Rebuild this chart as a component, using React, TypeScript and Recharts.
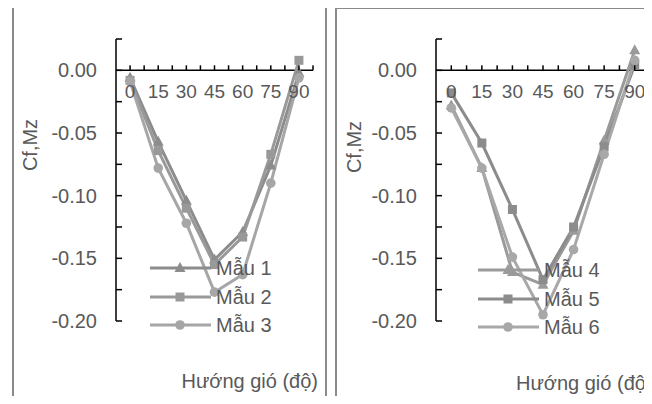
import { LineChart, Line, XAxis, YAxis, ReferenceLine, Legend } from 'recharts'

const FONT = '"Liberation Sans", Arial, sans-serif'
const TEXT = '#595959'

const ANGLES = [0, 15, 30, 45, 60, 75, 90]
const MAU_1 = [-0.006, -0.057, -0.104, -0.151, -0.129, -0.076, -0.002]
const MAU_2 = [-0.008, -0.064, -0.11, -0.155, -0.133, -0.067, 0.008]
const MAU_3 = [-0.009, -0.078, -0.122, -0.177, -0.163, -0.09, -0.006]
const MAU_4 = [-0.028, -0.078, -0.161, -0.171, -0.128, -0.056, 0.016]
const MAU_5 = [-0.018, -0.058, -0.111, -0.167, -0.125, -0.061, 0.004]
const MAU_6 = [-0.03, -0.078, -0.149, -0.195, -0.143, -0.067, 0.008]

const X_TICKS = [0, 7.5, 15, 22.5, 30, 37.5, 45, 52.5, 60, 67.5, 75, 82.5, 90, 97.5]
const X_LABELS = [0, 15, 30, 45, 60, 75, 90]
const Y_TICKS = [-0.2, -0.175, -0.15, -0.125, -0.1, -0.075, -0.05, -0.025, 0, 0.025]
const Y_LABELS = [-0.2, -0.15, -0.1, -0.05, 0]
const Y_MIN = -0.2
const Y_MAX = 0.025

type Shape = 'triangle' | 'square' | 'circle'
type Series = { name: string; values: number[]; color: string; shape: Shape }

const LEFT_SERIES: Series[] = [
  { name: 'Mẫu 1', values: MAU_1, color: '#8c8c8c', shape: 'triangle' },
  { name: 'Mẫu 2', values: MAU_2, color: '#999999', shape: 'square' },
  { name: 'Mẫu 3', values: MAU_3, color: '#a6a6a6', shape: 'circle' },
]
const RIGHT_SERIES: Series[] = [
  { name: 'Mẫu 4', values: MAU_4, color: '#9a9a9a', shape: 'triangle' },
  { name: 'Mẫu 5', values: MAU_5, color: '#8c8c8c', shape: 'square' },
  { name: 'Mẫu 6', values: MAU_6, color: '#a8a8a8', shape: 'circle' },
]

function Marker({ cx, cy, shape, color }: { cx: number; cy: number; shape: Shape; color: string }) {
  if (shape === 'triangle') {
    return <path d={`M${cx},${cy - 6} L${cx + 5.5},${cy + 4} L${cx - 5.5},${cy + 4} Z`} fill={color} />
  }
  if (shape === 'square') {
    return <rect x={cx - 4.5} y={cy - 4.5} width={9} height={9} fill={color} />
  }
  return <circle cx={cx} cy={cy} r={4.8} fill={color} />
}

type PanelProps = {
  series: Series[]
  left: number
  top: number
  width: number
  height: number
  yAxisWidth: number
  marginTop: number
  yTitleX: number
  xTitle: { x: number; anchor: 'start' | 'end' }
  legendLeft: number
}

function Panel({ series, left, top, width, height, yAxisWidth, marginTop, yTitleX, xTitle, legendLeft }: PanelProps) {
  const margin = { top: marginTop, right: 14, bottom: 80, left: 0 }
  const plotH = height - margin.top - margin.bottom - 1
  // x axis crosses at 0, so its ticks and labels sit at that height
  const zeroY = margin.top + (plotH * Y_MAX) / (Y_MAX - Y_MIN)

  const data = ANGLES.map((a, i) => {
    const row: Record<string, number> = { angle: a }
    series.forEach((s) => { row[s.name] = s.values[i] })
    return row
  })

  const XTick = (props: any) => {
    const { x, payload } = props
    const v = payload.value as number
    return (
      <g>
        <rect x={x - 0.75} y={zeroY - 5} width={1.5} height={5} fill="#000" />
        {X_LABELS.includes(v) && (
          <text x={x} y={zeroY + 21} textAnchor="middle" dominantBaseline="central" fill={TEXT} fontSize={19} fontFamily={FONT}>
            {v}
          </text>
        )}
      </g>
    )
  }

  const YTick = (props: any) => {
    const { x, y, payload } = props
    const v = payload.value as number
    const show = Y_LABELS.some((l) => Math.abs(l - v) < 1e-9)
    return (
      <g>
        <rect x={x} y={y - 0.75} width={6} height={1.5} fill="#000" />
        {show && (
          <text x={x - 19} y={y} textAnchor="end" dominantBaseline="central" fill={TEXT} fontSize={20} fontFamily={FONT}>
            {v.toFixed(2)}
          </text>
        )}
      </g>
    )
  }

  return (
    <div style={{ position: 'absolute', left, top, width, height }}>
      <LineChart width={width} height={height} data={data} margin={margin}>
        <rect x={1} y={1} width={width - 2} height={height - 2} fill="none" stroke="#8a8a8a" strokeWidth={2} />
        <XAxis
          dataKey="angle"
          type="number"
          domain={[-7.5, 97.5]}
          ticks={X_TICKS}
          interval={0}
          height={1}
          axisLine={false}
          tickLine={false}
          tickSize={0}
          tickMargin={0}
          tick={XTick}
        />
        <YAxis
          type="number"
          domain={[Y_MIN, Y_MAX]}
          ticks={Y_TICKS}
          interval={0}
          width={yAxisWidth}
          axisLine={{ stroke: '#000', strokeWidth: 1.5 }}
          tickLine={false}
          tickSize={0}
          tickMargin={0}
          tick={YTick}
        />
        <ReferenceLine y={0} stroke="#000" strokeWidth={1.5} />
        {series.map((s) => (
          <Line
            key={s.name}
            dataKey={s.name}
            stroke={s.color}
            strokeWidth={3}
            isAnimationActive={false}
            dot={(p: any) => <Marker key={`${s.name}-${p.index}`} cx={p.cx} cy={p.cy} shape={s.shape} color={s.color} />}
            activeDot={false}
          />
        ))}
        <text
          x={yTitleX}
          y={140}
          transform={`rotate(-90 ${yTitleX} 140)`}
          textAnchor="middle"
          dominantBaseline="central"
          fill={TEXT}
          fontSize={20}
          fontFamily={FONT}
        >
          Cf,Mz
        </text>
        <text x={xTitle.x} y={376} textAnchor={xTitle.anchor} dominantBaseline="central" fill={TEXT} fontSize={20} fontFamily={FONT}>
          Hướng gió (độ)
        </text>
        <Legend
          layout="vertical"
          align="center"
          verticalAlign="middle"
          wrapperStyle={{ left: legendLeft, top: 249, width: 'auto', height: 'auto' }}
          content={() => (
            <div>
              {series.map((s) => (
                <div key={s.name} style={{ display: 'flex', alignItems: 'center', height: 28.5 }}>
                  <svg width={61} height={20}>
                    <line x1={0} x2={61} y1={10} y2={10} stroke={s.color} strokeWidth={3} />
                    <Marker cx={30} cy={10} shape={s.shape} color={s.color} />
                  </svg>
                  <span style={{ marginLeft: 5, fontSize: 20, color: TEXT, fontFamily: FONT, lineHeight: 1 }}>{s.name}</span>
                </div>
              ))}
            </div>
          )}
        />
      </LineChart>
    </div>
  )
}

export default function App() {
  return (
    <div style={{ position: 'relative', width: 652, height: 404, margin: -8, overflow: 'hidden', background: '#fff' }}>
      <Panel
        series={LEFT_SERIES}
        left={12}
        top={5}
        width={315}
        height={397}
        yAxisWidth={104}
        marginTop={34}
        yTitleX={18}
        xTitle={{ x: 306, anchor: 'end' }}
        legendLeft={138}
      />
      <Panel
        series={RIGHT_SERIES}
        left={335}
        top={7}
        width={329}
        height={395}
        yAxisWidth={101}
        marginTop={32}
        yTitleX={19}
        xTitle={{ x: 181, anchor: 'start' }}
        legendLeft={143}
      />
    </div>
  )
}
